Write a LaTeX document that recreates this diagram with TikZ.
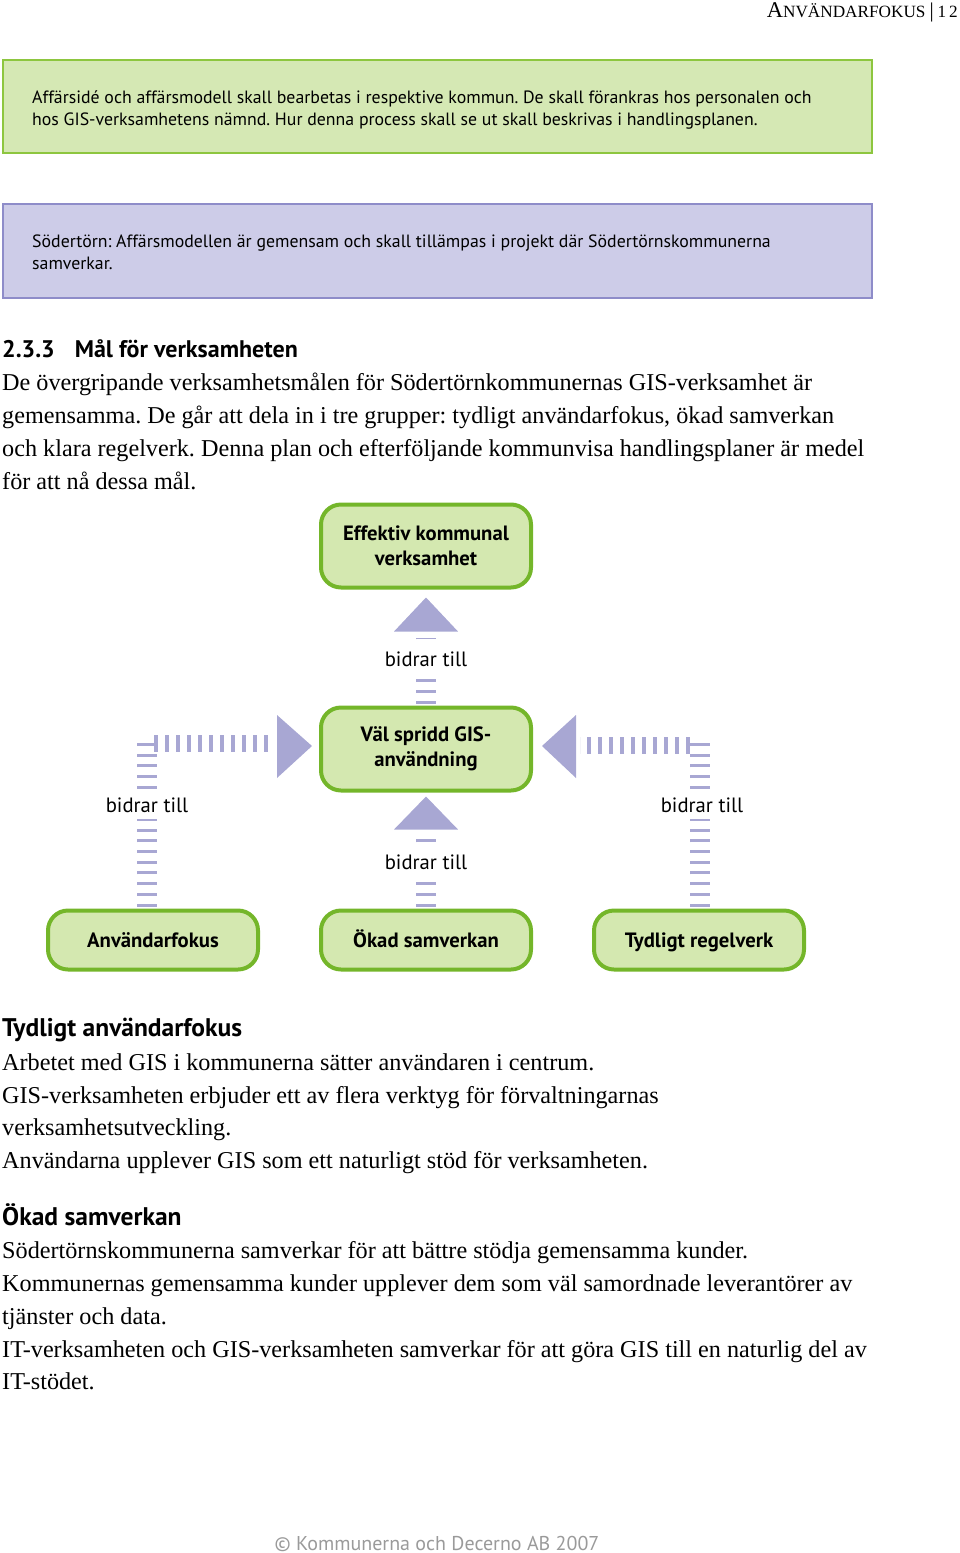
\documentclass[tikz,border=0pt]{standalone}
\usepackage{fontspec}
\setmainfont{Liberation Serif}
\setsansfont{PT Sans}
\usetikzlibrary{calc}
\definecolor{boxgreen}{HTML}{D5E8B4}
\definecolor{edgegreen}{HTML}{8DC63F}
\definecolor{nodegreen}{HTML}{D4E8B0}
\definecolor{nodeedge}{HTML}{74B62A}
\definecolor{boxlav}{HTML}{CDCCE8}
\definecolor{edgelav}{HTML}{8E8CC9}
\definecolor{arrowlav}{HTML}{A8A7D3}
\definecolor{footgray}{HTML}{9A9A9A}
\frenchspacing
\tikzset{
  txt/.style={anchor=base west,inner sep=0pt},
  boxtxt/.style={txt,font=\sffamily\fontsize{17.8}{20}\selectfont},
  bodytxt/.style={txt,font=\rmfamily\fontsize{24.2}{33}\selectfont},
  headtxt/.style={txt,font=\sffamily\bfseries\fontsize{25.5}{28}\selectfont},
  goal/.style={draw=nodeedge,fill=nodegreen,line width=4pt,rounded corners=20pt,
    minimum width=210pt,inner sep=0pt,align=center,
    font=\sffamily\bfseries\fontsize{20.7}{25}\selectfont},
  goalone/.style={goal,text height=16pt,text depth=2pt,minimum height=59pt},
  vstem/.style={draw=arrowlav,line width=20pt,dash pattern=on 3pt off 7.7pt},
  hstem/.style={draw=arrowlav,line width=17pt,dash pattern=on 4pt off 7pt},
  tri/.style={fill=arrowlav},
  lbl/.style={fill=white,inner xsep=2pt,inner ysep=7pt,font=\sffamily\fontsize{20.7}{24}\selectfont}
}
\begin{document}
\begin{tikzpicture}[x=1pt,y=-1pt]
\useasboundingbox (0,0) rectangle (960,1553);
% header
\node[anchor=base east,inner sep=0pt,font=\rmfamily] (hdr) at (958,17)
  {{\fontsize{22.5}{20}\selectfont A}{\fontsize{17.2}{20}\selectfont NVÄNDARFOKUS}\hspace{4pt}{\fontsize{21}{20}\selectfont\textbar}\hspace{4pt}{\fontsize{17.2}{20}\selectfont 1\,2}};
% green box
\draw[edgegreen,fill=boxgreen,line width=2.5pt] (3,60) rectangle (872,153);
\node[boxtxt] (g1) at (32,103) {Affärsidé och affärsmodell skall bearbetas i respektive kommun. De skall förankras hos personalen och};
\node[boxtxt] (g2) at (32,125) {hos GIS-verksamhetens nämnd. Hur denna process skall se ut skall beskrivas i handlingsplanen.};
% lavender box
\draw[edgelav,fill=boxlav,line width=2.5pt] (3,204) rectangle (872,298);
\node[boxtxt] (p1) at (32,247) {Södertörn: Affärsmodellen är gemensam och skall tillämpas i projekt där Södertörnskommunerna};
\node[boxtxt] (p2) at (32,269) {samverkar.};
% heading
\node[headtxt,font=\sffamily\bfseries\fontsize{24}{28}\selectfont] (h1) at (2,357) {2.3.3\hspace{20pt}Mål för verksamheten};
\node[bodytxt] (b1) at (2,390) {De övergripande verksamhetsmålen för Södertörnkommunernas GIS-verksamhet är};
\node[bodytxt] (b2) at (2,423) {gemensamma. De går att dela in i tre grupper: tydligt användarfokus, ökad samverkan};
\node[bodytxt] (b3) at (2,456) {och klara regelverk. Denna plan och efterföljande kommunvisa handlingsplaner är medel};
\node[bodytxt] (b4) at (2,489) {för att nå dessa mål.};
% diagram nodes
\node[goal,minimum height=83pt] (eff) at (426,546) {Effektiv kommunal\\verksamhet};
\node[goal,minimum height=83pt] (vsp) at (426,749) {Väl spridd GIS-\\användning};
\node[goalone] (anv) at (153,940) {Användarfokus};
\node[goalone] (oka) at (426,940) {Ökad samverkan};
\node[goalone] (tyd) at (699,940) {Tydligt regelverk};
% arrow: vsp -> eff
\draw[vstem] ($(vsp.north)+(0,-2)$) -- ($(eff.south)+(0,48)$);
\fill[tri] ($(eff.south)+(0,8)$) -- ($(eff.south)+(-32,42)$) -- ($(eff.south)+(32,42)$) -- cycle;
\node[lbl] (l1) at (426,659) {bidrar till};
% arrow: oka -> vsp
\draw[vstem] ($(oka.north)+(0,-2)$) -- ($(vsp.south)+(0,44)$);
\fill[tri] ($(vsp.south)+(0,4)$) -- ($(vsp.south)+(-32,37)$) -- ($(vsp.south)+(32,37)$) -- cycle;
\node[lbl] (l2) at (426,862) {bidrar till};
% arrow: anv -> vsp
\coordinate (lc) at (147,743);
\draw[vstem] ($(anv.north)+(-6,-2)$) -- (lc);
\draw[hstem] (154,743) -- (274,743);
\fill[tri] ($(vsp.west)+(-7,-3)$) -- ($(vsp.west)+(-42,-34)$) -- ($(vsp.west)+(-42,29)$) -- cycle;
\node[lbl] (l3) at (147,805) {bidrar till};
% arrow: tyd -> vsp
\coordinate (rc) at (700,743);
\draw[vstem] ($(tyd.north)+(1,-2)$) -- (rc);
\draw[hstem] (690,745) -- (580,745);
\fill[tri] ($(vsp.east)+(9,-3)$) -- ($(vsp.east)+(43,-34)$) -- ($(vsp.east)+(43,29)$) -- cycle;
\node[lbl] (l4) at (702,805) {bidrar till};
% sections
\node[headtxt] (h2) at (2,1036) {Tydligt användarfokus};
\node[bodytxt] (c1) at (2,1070) {Arbetet med GIS i kommunerna sätter användaren i centrum.};
\node[bodytxt] (c2) at (2,1103) {GIS-verksamheten erbjuder ett av flera verktyg för förvaltningarnas};
\node[bodytxt] (c3) at (2,1135) {verksamhetsutveckling.};
\node[bodytxt] (c4) at (2,1168) {Användarna upplever GIS som ett naturligt stöd för verksamheten.};
\node[headtxt] (h3) at (2,1225) {Ökad samverkan};
\node[bodytxt] (d1) at (2,1258) {Södertörnskommunerna samverkar för att bättre stödja gemensamma kunder.};
\node[bodytxt] (d2) at (2,1291) {Kommunernas gemensamma kunder upplever dem som väl samordnade leverantörer av};
\node[bodytxt] (d3) at (2,1324) {tjänster och data.};
\node[bodytxt] (d4) at (2,1357) {IT-verksamheten och GIS-verksamheten samverkar för att göra GIS till en naturlig del av};
\node[bodytxt] (d5) at (2,1389) {IT-stödet.};
% footer
\node[anchor=base,inner sep=0pt,text=footgray,font=\sffamily\fontsize{20}{22}\selectfont] (ft) at (437,1550) {© Kommunerna och Decerno AB 2007};
\end{tikzpicture}
\end{document}
